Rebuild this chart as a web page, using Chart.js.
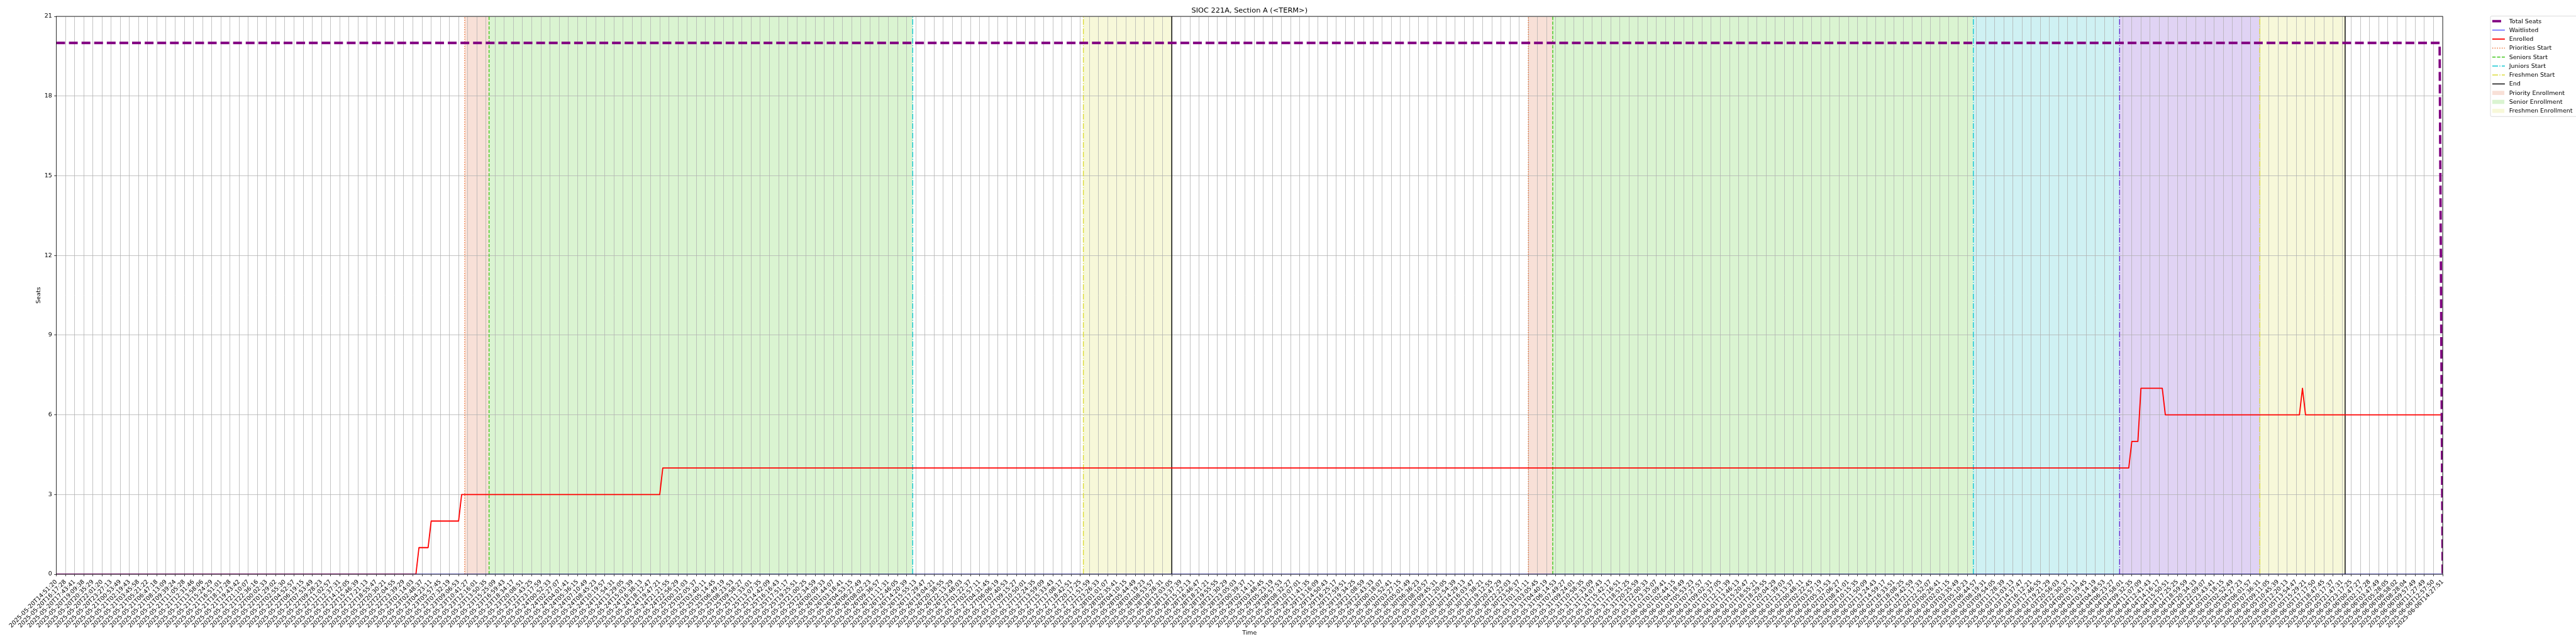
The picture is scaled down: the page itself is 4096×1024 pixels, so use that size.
<!DOCTYPE html>
<html>
<head>
<meta charset="utf-8">
<title>SIOC 221A, Section A (&lt;TERM&gt;)</title>
<script src="https://cdn.jsdelivr.net/npm/chart.js@4.4.1/dist/chart.umd.min.js"></script>
<style>
  html, body { margin: 0; padding: 0; background: #fff; }
  canvas { display: block; }
</style>
</head>
<body>
<canvas id="seatsChart" width="4096" height="1024"></canvas>
<script>
// Time axis tick labels (one tick every 3 samples)
const tickLabels = [
  '2025-05-20T14:51:20', '2025-05-20T16:17:28', '2025-05-20T17:43:41', '2025-05-20T19:09:38',
  '2025-05-20T20:35:29', '2025-05-20T22:01:20', '2025-05-20T23:27:13', '2025-05-21T00:53:49',
  '2025-05-21T02:19:43', '2025-05-21T03:45:58', '2025-05-21T05:21:22', '2025-05-21T06:47:18',
  '2025-05-21T08:13:09', '2025-05-21T09:39:24', '2025-05-21T11:05:28', '2025-05-21T12:31:46',
  '2025-05-21T13:58:06', '2025-05-21T15:24:29', '2025-05-21T16:51:01', '2025-05-21T18:17:28',
  '2025-05-21T19:43:42', '2025-05-21T21:10:07', '2025-05-21T22:36:16', '2025-05-22T00:02:33',
  '2025-05-22T01:29:02', '2025-05-22T02:55:30', '2025-05-22T04:52:57', '2025-05-22T06:19:15',
  '2025-05-22T07:53:49', '2025-05-22T09:28:23', '2025-05-22T11:02:57', '2025-05-22T12:37:31',
  '2025-05-22T14:12:05', '2025-05-22T15:46:39', '2025-05-22T17:21:13', '2025-05-22T18:55:47',
  '2025-05-22T20:30:21', '2025-05-22T22:04:55', '2025-05-22T23:39:29', '2025-05-23T01:14:03',
  '2025-05-23T02:48:37', '2025-05-23T04:23:11', '2025-05-23T05:57:45', '2025-05-23T07:32:19',
  '2025-05-23T09:06:53', '2025-05-23T10:41:27', '2025-05-23T12:16:01', '2025-05-23T13:50:35',
  '2025-05-23T15:25:09', '2025-05-23T16:59:43', '2025-05-23T18:34:17', '2025-05-23T20:08:51',
  '2025-05-23T21:43:25', '2025-05-23T23:17:59', '2025-05-24T00:52:33', '2025-05-24T02:27:07',
  '2025-05-24T04:01:41', '2025-05-24T05:36:15', '2025-05-24T07:10:49', '2025-05-24T08:45:23',
  '2025-05-24T10:19:57', '2025-05-24T11:54:31', '2025-05-24T13:29:05', '2025-05-24T15:03:39',
  '2025-05-24T16:38:13', '2025-05-24T18:12:47', '2025-05-24T19:47:21', '2025-05-24T21:21:55',
  '2025-05-24T22:56:29', '2025-05-25T00:31:03', '2025-05-25T02:05:37', '2025-05-25T03:40:11',
  '2025-05-25T05:14:45', '2025-05-25T06:49:19', '2025-05-25T08:23:53', '2025-05-25T09:58:27',
  '2025-05-25T11:33:01', '2025-05-25T13:07:35', '2025-05-25T14:42:09', '2025-05-25T16:16:43',
  '2025-05-25T17:51:17', '2025-05-25T19:25:51', '2025-05-25T21:00:25', '2025-05-25T22:34:59',
  '2025-05-26T00:09:33', '2025-05-26T01:44:07', '2025-05-26T03:18:41', '2025-05-26T04:53:15',
  '2025-05-26T06:27:49', '2025-05-26T08:02:23', '2025-05-26T09:36:57', '2025-05-26T11:11:31',
  '2025-05-26T12:46:05', '2025-05-26T14:20:39', '2025-05-26T15:55:13', '2025-05-26T17:29:47',
  '2025-05-26T19:04:21', '2025-05-26T20:38:55', '2025-05-26T22:13:29', '2025-05-26T23:48:03',
  '2025-05-27T01:22:37', '2025-05-27T02:57:11', '2025-05-27T04:31:45', '2025-05-27T06:06:19',
  '2025-05-27T07:40:53', '2025-05-27T09:15:27', '2025-05-27T10:50:01', '2025-05-27T12:24:35',
  '2025-05-27T13:59:09', '2025-05-27T15:33:43', '2025-05-27T17:08:17', '2025-05-27T18:42:51',
  '2025-05-27T20:17:25', '2025-05-27T21:51:59', '2025-05-27T23:26:33', '2025-05-28T01:01:07',
  '2025-05-28T02:35:41', '2025-05-28T04:10:15', '2025-05-28T05:44:49', '2025-05-28T07:19:23',
  '2025-05-28T08:53:57', '2025-05-28T10:28:31', '2025-05-28T12:03:05', '2025-05-28T13:37:39',
  '2025-05-28T15:12:13', '2025-05-28T16:46:47', '2025-05-28T18:21:21', '2025-05-28T19:55:55',
  '2025-05-28T21:30:29', '2025-05-28T23:05:03', '2025-05-29T00:39:37', '2025-05-29T02:14:11',
  '2025-05-29T03:48:45', '2025-05-29T05:23:19', '2025-05-29T06:57:53', '2025-05-29T08:32:27',
  '2025-05-29T10:07:01', '2025-05-29T11:41:35', '2025-05-29T13:16:09', '2025-05-29T14:50:43',
  '2025-05-29T16:25:17', '2025-05-29T17:59:51', '2025-05-29T19:34:25', '2025-05-29T21:08:59',
  '2025-05-29T22:43:33', '2025-05-30T00:18:07', '2025-05-30T01:52:41', '2025-05-30T03:27:15',
  '2025-05-30T05:01:49', '2025-05-30T06:36:23', '2025-05-30T08:10:57', '2025-05-30T09:45:31',
  '2025-05-30T11:20:05', '2025-05-30T12:54:39', '2025-05-30T14:29:13', '2025-05-30T16:03:47',
  '2025-05-30T17:38:21', '2025-05-30T19:12:55', '2025-05-30T20:47:29', '2025-05-30T22:22:03',
  '2025-05-30T23:56:37', '2025-05-31T01:31:11', '2025-05-31T03:05:45', '2025-05-31T04:40:19',
  '2025-05-31T06:14:53', '2025-05-31T07:49:27', '2025-05-31T09:24:01', '2025-05-31T10:58:35',
  '2025-05-31T12:33:09', '2025-05-31T14:07:43', '2025-05-31T15:42:17', '2025-05-31T17:16:51',
  '2025-05-31T18:51:25', '2025-05-31T20:25:59', '2025-05-31T22:00:33', '2025-05-31T23:35:07',
  '2025-06-01T01:09:41', '2025-06-01T02:44:15', '2025-06-01T04:18:49', '2025-06-01T05:53:23',
  '2025-06-01T07:27:57', '2025-06-01T09:02:31', '2025-06-01T10:37:05', '2025-06-01T12:11:39',
  '2025-06-01T13:46:13', '2025-06-01T15:20:47', '2025-06-01T16:55:21', '2025-06-01T18:29:55',
  '2025-06-01T20:04:29', '2025-06-01T21:39:03', '2025-06-01T23:13:37', '2025-06-02T00:48:11',
  '2025-06-02T02:22:45', '2025-06-02T03:57:19', '2025-06-02T05:31:53', '2025-06-02T07:06:27',
  '2025-06-02T08:41:01', '2025-06-02T10:15:35', '2025-06-02T11:50:09', '2025-06-02T13:24:43',
  '2025-06-02T14:59:17', '2025-06-02T16:33:51', '2025-06-02T18:08:25', '2025-06-02T19:42:59',
  '2025-06-02T21:17:33', '2025-06-02T22:52:07', '2025-06-03T00:26:41', '2025-06-03T02:01:15',
  '2025-06-03T03:35:49', '2025-06-03T05:10:23', '2025-06-03T06:44:57', '2025-06-03T08:19:31',
  '2025-06-03T09:54:05', '2025-06-03T11:28:39', '2025-06-03T13:03:13', '2025-06-03T14:37:47',
  '2025-06-03T16:12:21', '2025-06-03T17:46:55', '2025-06-03T19:21:29', '2025-06-03T20:56:03',
  '2025-06-03T22:30:37', '2025-06-04T00:05:11', '2025-06-04T01:39:45', '2025-06-04T03:14:19',
  '2025-06-04T04:48:53', '2025-06-04T06:23:27', '2025-06-04T07:58:01', '2025-06-04T09:32:35',
  '2025-06-04T11:07:09', '2025-06-04T12:41:43', '2025-06-04T14:16:17', '2025-06-04T15:50:51',
  '2025-06-04T17:25:25', '2025-06-04T18:59:59', '2025-06-04T20:34:33', '2025-06-04T22:09:07',
  '2025-06-04T23:43:41', '2025-06-05T01:18:15', '2025-06-05T02:52:49', '2025-06-05T04:27:23',
  '2025-06-05T06:01:57', '2025-06-05T07:36:31', '2025-06-05T09:11:05', '2025-06-05T10:45:39',
  '2025-06-05T12:20:13', '2025-06-05T13:54:47', '2025-06-05T15:29:21', '2025-06-05T17:17:50',
  '2025-06-05T18:47:45', '2025-06-05T20:17:37', '2025-06-05T21:47:31', '2025-06-05T23:17:25',
  '2025-06-06T00:47:27', '2025-06-06T02:17:28', '2025-06-06T03:47:49', '2025-06-06T05:28:05',
  '2025-06-06T06:58:02', '2025-06-06T08:28:04', '2025-06-06T09:57:49', '2025-06-06T11:27:49',
  '2025-06-06T12:57:50', '2025-06-06T14:27:51'
];
const samplesPerTick = 3;
const lastSample = (tickLabels.length - 1) * samplesPerTick;

// Seat axis
const seatMax = 21;
const seatStep = 3;

// Series as break points: sample index -> seats
const totalSeatsX = [0, 782, 783];
const totalSeatsY = [20, 20, 0];
const waitlistedX = [0, 783];
const waitlistedY = [0, 0];
const enrolledX = [0, 118, 119, 122, 123, 132, 133, 198, 199, 680, 681, 683, 684, 691, 692, 736, 737, 738, 783];
const enrolledY = [0, 0, 1, 1, 2, 2, 3, 3, 4, 4, 5, 5, 7, 7, 6, 6, 7, 6, 6];

// Milestones (sample index)
const prioritiesStart = [134, 483];
const seniorsStart = [142, 491];
const juniorsStart = [281, 629];
const sophomoresStart = [677];
const freshmenStart = [337, 723];
const endMarks = [366, 751];

// Enrollment windows [from, to] (sample index)
const priorityWindows = [[134, 142], [483, 491]];
const seniorWindows = [[142, 281], [491, 629]];
const juniorWindows = [[629, 677]];
const sophomoreWindows = [[677, 723]];
const freshmenWindows = [[337, 366], [723, 751]];

const S = 0.682; // scale from the 6000x1500 original
const lw = 1.389 * S; // 1pt in px at this scale

function toPoints(xs, ys) {
  return xs.map((x, i) => ({ x: x, y: ys[i] }));
}

function vertical(xs) {
  const pts = [];
  xs.forEach(x => { pts.push({ x: x, y: 0 }, { x: x, y: seatMax }, { x: x, y: null }); });
  return pts;
}

function seriesSet(label, xs, ys, color, width, dash, legendOrder) {
  return {
    label: label, data: toPoints(xs, ys), borderColor: color, borderWidth: width,
    borderDash: dash, pointRadius: 0, fill: false, clip: 0, legendOrder: legendOrder,
    borderJoinStyle: 'round'
  };
}

function markerSet(label, xs, color, dash, legendOrder) {
  return {
    label: label, data: vertical(xs), borderColor: color, borderWidth: 1.5 * lw,
    borderDash: dash, pointRadius: 0, fill: false, clip: 0, legendOrder: legendOrder
  };
}

function windowSets(label, windows, color, legendOrder) {
  return windows.map((w, i) => ({
    label: label, data: [{ x: w[0], y: seatMax }, { x: w[1], y: seatMax }],
    borderColor: 'transparent', borderWidth: 0, backgroundColor: color, fill: 'origin',
    pointRadius: 0, clip: 0, legendOrder: i === 0 ? legendOrder : undefined, patch: true
  }));
}

const dotted = [1.5 * lw, 2.47 * lw];
const dashed = [5.55 * lw, 2.4 * lw];
const dashDot = [9.6 * lw, 2.4 * lw, 1.5 * lw, 2.4 * lw];

const datasets = [
  ...windowSets('Priority Enrollment', priorityWindows, '#f8e0d7', 8),
  ...windowSets('Senior Enrollment', seniorWindows, '#daf4d1', 9),
  ...windowSets('Junior Enrollment', juniorWindows, '#cff1f3', undefined),
  ...windowSets('Sophomore Enrollment', sophomoreWindows, '#e0d3f4', undefined),
  ...windowSets('Freshmen Enrollment', freshmenWindows, '#f7f8d9', 10),
  seriesSet('Total Seats', totalSeatsX, totalSeatsY, '#800080', 4 * lw, [14.8 * lw, 6.4 * lw], 0),
  seriesSet('Waitlisted', waitlistedX, waitlistedY, '#0000ff', 1 * lw, [], 1),
  seriesSet('Enrolled', enrolledX, enrolledY, '#ff0000', 1.9 * lw, [], 2),
  markerSet('Priorities Start', prioritiesStart, '#ec7031', dotted, 3),
  markerSet('Seniors Start', seniorsStart, '#44c81e', dashed, 4),
  markerSet('Juniors Start', juniorsStart, '#14c8d2', dashDot, 5),
  markerSet('Sophomores Start', sophomoresStart, '#6a2fd2', dashDot, undefined),
  markerSet('Freshmen Start', freshmenStart, '#dcdc3c', dashDot, 6),
  markerSet('End', endMarks, '#000000', [], 7)
];

// Title centred over the plot area
const titlePlugin = {
  id: 'plotTitle',
  afterDraw(chart) {
    const { ctx, chartArea } = chart;
    ctx.save();
    ctx.font = (12 * lw).toFixed(2) + 'px "DejaVu Sans"';
    ctx.fillStyle = '#000';
    ctx.textAlign = 'center';
    ctx.textBaseline = 'alphabetic';
    ctx.fillText('SIOC 221A, Section A (<TERM>)', (chartArea.left + chartArea.right) / 2, 20);
    ctx.restore();
  }
};

// Black frame around the axes, above the data
const framePlugin = {
  id: 'frame',
  afterDatasetsDraw(chart) {
    const { ctx, chartArea: a } = chart;
    ctx.save();
    ctx.strokeStyle = '#000';
    ctx.lineWidth = 0.8 * lw;
    ctx.strokeRect(a.left, a.top, a.right - a.left, a.bottom - a.top);
    ctx.restore();
  }
};

// matplotlib-style legend in the right margin
const legendPlugin = {
  id: 'sideLegend',
  afterDraw(chart) {
    const { ctx } = chart;
    const items = chart.data.datasets
      .filter(d => d.legendOrder !== undefined)
      .sort((a, b) => a.legendOrder - b.legendOrder);
    const boxX = 3960, boxY = 25.5, rowH = 14.26, firstY = 33.65;
    const boxH = 159.8;
    ctx.save();
    ctx.beginPath();
    ctx.roundRect(boxX, boxY, 160, boxH, 1.9);
    ctx.fillStyle = 'rgba(255,255,255,0.8)';
    ctx.fill();
    ctx.strokeStyle = '#cccccc';
    ctx.lineWidth = 0.7;
    ctx.stroke();
    ctx.font = (10 * lw).toFixed(2) + 'px "DejaVu Sans"';
    ctx.textBaseline = 'middle';
    ctx.textAlign = 'left';
    items.forEach((d, i) => {
      const y = firstY + i * rowH;
      if (d.patch) {
        ctx.fillStyle = d.backgroundColor;
        ctx.fillRect(3962.9, y - 3.3, 19.2, 6.6);
      } else {
        ctx.beginPath();
        ctx.setLineDash(d.borderDash || []);
        ctx.strokeStyle = d.borderColor;
        ctx.lineWidth = d.borderWidth;
        ctx.lineCap = 'butt';
        ctx.moveTo(3962.9, y);
        ctx.lineTo(3982.9, y);
        ctx.stroke();
        ctx.setLineDash([]);
      }
      ctx.fillStyle = '#000';
      ctx.fillText(d.label, 3989.7, y + 0.5);
    });
    ctx.restore();
  }
};

Chart.defaults.font.family = '"DejaVu Sans"';
Chart.defaults.color = '#000';

const tickFont = { size: 10 * lw, family: '"DejaVu Sans"' };
const gridStyle = {
  color: '#b0b0b0', lineWidth: 0.8 * lw, tickColor: '#000', tickWidth: 0.8 * lw,
  tickLength: 3.5 * lw, drawTicks: true
};

new Chart(document.getElementById('seatsChart').getContext('2d'), {
  type: 'line',
  data: { datasets: datasets },
  options: {
    responsive: false,
    animation: false,
    devicePixelRatio: 1,
    events: [],
    layout: { padding: { top: 26, right: 4096 - 3884, bottom: 0, left: 0 } },
    elements: { line: { tension: 0 } },
    plugins: {
      legend: { display: false },
      tooltip: { enabled: false },
      title: { display: false },
      filler: { drawTime: 'beforeDraw' }
    },
    scales: {
      x: {
        type: 'linear',
        min: 0,
        max: lastSample,
        afterBuildTicks: scale => {
          scale.ticks = tickLabels.map((_, i) => ({ value: i * samplesPerTick }));
        },
        afterFit: scale => { scale.height = 1024 - 913; },
        ticks: {
          autoSkip: false,
          minRotation: 45,
          maxRotation: 45,
          padding: 3.5 * lw,
          font: tickFont,
          color: '#000',
          callback: value => tickLabels[Math.round(value / samplesPerTick)]
        },
        grid: gridStyle,
        border: { display: false },
        title: { display: true, text: 'Time', font: tickFont, color: '#000', padding: { top: 0, bottom: 11.7 } }
      },
      y: {
        type: 'linear',
        min: 0,
        max: seatMax,
        afterFit: scale => { scale.width = 89.5; },
        ticks: { stepSize: seatStep, padding: 3.5 * lw, font: tickFont, color: '#000' },
        grid: gridStyle,
        border: { display: false },
        title: { display: true, text: 'Seats', font: tickFont, color: '#000', padding: { top: 55.7, bottom: 0 } }
      }
    }
  },
  plugins: [titlePlugin, framePlugin, legendPlugin]
});
</script>
</body>
</html>
